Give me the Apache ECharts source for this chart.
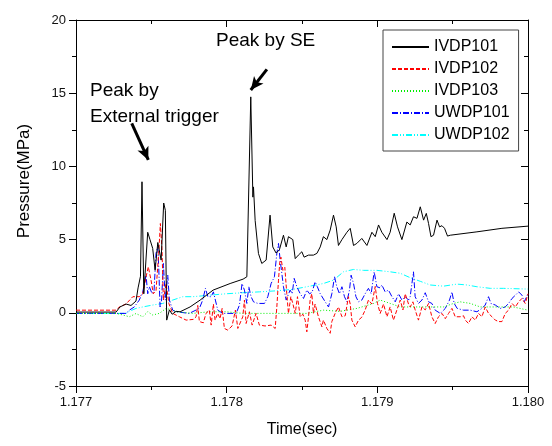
<!DOCTYPE html>
<html>
<head>
<meta charset="utf-8">
<script src="https://cdn.jsdelivr.net/npm/echarts@6/dist/echarts.min.js"></script>
<style>
  html, body { margin: 0; padding: 0; background: #fff; }
  #chart { width: 552px; height: 446px; }
</style>
</head>
<body>
<div id="chart"></div>
<script>
// time (s), pressure (MPa)
const ivdp101 = [
  [1.177, 0.05], [1.177266, 0.05], [1.177292, 0.4], [1.177332, 0.6], [1.177365, 0.5], [1.177398, 0.8],
  [1.177412, 1.7], [1.177428, 2.5], [1.177438, 8.95], [1.17745, 1.3], [1.177476, 5.5], [1.177491, 5.0],
  [1.177509, 4.4], [1.177525, 2.9], [1.177543, 4.8], [1.177565, 3.6], [1.177582, 7.5], [1.177593, 7.0],
  [1.177602, -0.5], [1.17762, 0.2], [1.177638, -0.1], [1.177664, 0.1], [1.177691, 0.07], [1.177757, 0.4],
  [1.177824, 0.87], [1.17791, 1.55], [1.178023, 2.0], [1.178109, 2.3], [1.178134, 2.46], [1.17816, 14.75],
  [1.178174, 7.9], [1.178178, 8.6], [1.178189, 6.3], [1.178211, 4.05], [1.178233, 3.37], [1.178262, 3.6],
  [1.178288, 6.67], [1.178306, 4.5], [1.178328, 4.08], [1.17835, 4.3], [1.178377, 5.3], [1.178395, 4.5],
  [1.17841, 5.2], [1.178421, 5.2], [1.178439, 5.0], [1.178455, 3.7], [1.178476, 3.94], [1.178499, 4.17],
  [1.178514, 3.8], [1.178543, 3.94], [1.178576, 3.94], [1.178599, 4.06], [1.178621, 4.5], [1.178642, 5.2],
  [1.178665, 5.0], [1.178687, 5.65], [1.178709, 6.67], [1.178727, 5.87], [1.178742, 4.6], [1.178765, 5.0],
  [1.178798, 5.5], [1.17882, 5.77], [1.178842, 4.6], [1.178864, 4.74], [1.178897, 5.08], [1.178931, 4.6],
  [1.178964, 5.5], [1.178986, 5.2], [1.179008, 6.0], [1.17903, 5.5], [1.179064, 5.0], [1.179085, 5.5],
  [1.179112, 6.8], [1.179134, 5.87], [1.179163, 5.0], [1.179196, 6.2], [1.179218, 6.0], [1.17924, 6.56],
  [1.179263, 6.45], [1.179285, 7.24], [1.179307, 6.33], [1.179325, 6.79], [1.17934, 6.1], [1.179356, 5.2],
  [1.179373, 5.3], [1.179396, 6.33], [1.179413, 5.87], [1.179429, 5.95], [1.179446, 5.77], [1.179466, 5.24],
  [1.179484, 5.3], [1.179661, 5.53], [1.179827, 5.77], [1.18, 5.92]
];

const ivdp102 = [
  [1.177, 0.18], [1.177266, 0.18], [1.177288, 0.4], [1.177332, 0.6], [1.177377, 1.1], [1.17742, 1.1],
  [1.177443, 1.3], [1.177465, 2.46], [1.17748, 3.14], [1.177498, 2.23], [1.177513, 1.3], [1.177531, 1.5],
  [1.177549, 4.06], [1.17756, 6.1], [1.177571, 4.3], [1.17758, 0.87], [1.177598, 2.0], [1.177616, 0.64],
  [1.177642, -0.04], [1.177686, -0.27], [1.177731, -0.5], [1.177779, -0.45], [1.177797, -0.27], [1.177808, 0.5],
  [1.177819, -0.6], [1.177845, -0.68], [1.177863, -0.04], [1.177885, 0.18], [1.177897, -0.84], [1.177912, 0.6],
  [1.177923, -0.5], [1.177941, -0.04], [1.177956, -0.4], [1.17797, 0.3], [1.177985, -1.07], [1.178007, -1.18],
  [1.178036, -0.9], [1.178058, 0.18], [1.178074, -1.07], [1.178107, -0.27], [1.178118, 0.87], [1.178129, -0.73],
  [1.178151, 0.07], [1.178169, -0.84], [1.178195, -0.04], [1.178217, -0.84], [1.178255, -0.9], [1.178295, -0.84],
  [1.178322, -1.07], [1.178333, 0.4], [1.178344, 2.23], [1.178352, 3.4], [1.17836, 3.8], [1.178373, 2.9],
  [1.178386, 3.1], [1.178399, 1.3], [1.17841, -0.04], [1.178426, 1.1], [1.178439, 0.64], [1.178455, -0.04],
  [1.17847, 1.1], [1.178488, -0.27], [1.178506, -0.1], [1.178521, -0.5], [1.178532, -1.3], [1.178543, -0.3],
  [1.178554, 0.87], [1.178565, 1.3], [1.178576, -0.04], [1.178587, 0.6], [1.178609, -0.27], [1.178632, -0.96],
  [1.178642, -0.5], [1.178665, -1.07], [1.178687, -1.4], [1.178698, -0.6], [1.17872, -0.04], [1.178742, 0.4],
  [1.178765, -0.27], [1.178787, -0.2], [1.178808, 1.1], [1.17882, 0.6], [1.178831, -0.5], [1.178853, -0.96],
  [1.178875, -0.5], [1.178897, -0.3], [1.178919, 0.18], [1.178941, 0.87], [1.178964, 0.6], [1.178986, 1.8],
  [1.179001, 0.64], [1.179019, -0.04], [1.179041, 0.6], [1.179064, -0.27], [1.179085, 0.4], [1.179107, -0.5],
  [1.17913, 0.2], [1.179152, 0.87], [1.17917, 0.2], [1.179185, 1.3], [1.179207, 0.6], [1.179218, 0.4],
  [1.179236, 0.75], [1.179251, 0.2], [1.179273, -0.5], [1.179296, 0.4], [1.179318, 0.2], [1.17934, 0.64],
  [1.179362, -0.27], [1.179384, -0.73], [1.179406, -0.27], [1.179429, -0.04], [1.179451, -0.4], [1.179473, -0.04],
  [1.179495, 0.3], [1.179517, -0.27], [1.17955, -0.27], [1.179572, -0.2], [1.179584, -0.5], [1.179605, -0.73],
  [1.179628, -0.27], [1.17965, -0.5], [1.179672, -0.04], [1.179694, -0.27], [1.179716, 0.4], [1.179738, -0.04],
  [1.179761, -0.27], [1.179783, -0.5], [1.179805, -0.6], [1.179827, -0.6], [1.179849, -0.04], [1.179871, 0.18],
  [1.179894, 0.64], [1.179916, 0.4], [1.179938, 0.75], [1.17996, 0.98], [1.179982, 0.64], [1.18, 1.3]
];

const ivdp103 = [
  [1.177, -0.04], [1.177266, -0.04], [1.177292, -0.1], [1.177354, -0.27], [1.177398, -0.05], [1.177443, -0.27],
  [1.177476, 0.07], [1.177509, -0.15], [1.177553, -0.04], [1.177598, 0.3], [1.177642, 0.18], [1.177664, 0.07],
  [1.177775, -0.04], [1.177885, 0.07], [1.177996, 0.07], [1.178107, -0.04], [1.178217, -0.04], [1.178328, -0.04],
  [1.178439, -0.04], [1.178532, -0.04], [1.178642, 0.18], [1.178753, 0.1], [1.178864, 0.3], [1.178975, 0.64],
  [1.179019, 0.87], [1.179085, 0.64], [1.179152, 0.4], [1.179218, 0.4], [1.179439, 0.4], [1.179506, 0.64],
  [1.17955, 0.75], [1.179617, 0.64], [1.179683, 0.4], [1.179816, 0.4], [1.179902, 0.4], [1.18, 0.18]
];

const uwdp101 = [
  [1.177, -0.04], [1.177332, -0.04], [1.177354, 0.18], [1.177387, 0.4], [1.17742, 0.87], [1.177443, 1.43],
  [1.177454, 2.0], [1.177465, 2.57], [1.177476, 1.3], [1.177487, 1.78], [1.177505, 1.3], [1.177518, 1.5],
  [1.177531, 4.06], [1.177543, 4.5], [1.177549, 3.14], [1.177558, 0.4], [1.177568, 0.87], [1.17758, 3.37],
  [1.177593, 0.87], [1.177609, 2.57], [1.17762, 0.87], [1.177642, 0.18], [1.177664, 0.07], [1.177752, -0.04],
  [1.177819, 0.3], [1.177841, 0.87], [1.177859, 1.67], [1.177875, 1.1], [1.177897, 1.1], [1.177912, 1.43],
  [1.177925, 0.87], [1.177941, 0.18], [1.177974, -0.04], [1.178063, -0.04], [1.178085, 0.53], [1.178102, 2.0],
  [1.178118, 1.55], [1.178134, 0.64], [1.178147, 1.78], [1.178162, 1.1], [1.178178, 0.75], [1.178207, 0.64],
  [1.178251, 0.64], [1.178273, 1.1], [1.178295, 2.0], [1.178317, 2.46], [1.178333, 4.06], [1.178344, 4.74],
  [1.178355, 3.6], [1.178366, 2.7], [1.178377, 1.78], [1.178395, 0.87], [1.178421, 1.55], [1.178435, 1.3],
  [1.178448, 2.35], [1.178466, 1.78], [1.178488, 1.3], [1.17851, 0.98], [1.178532, 1.55], [1.17855, 1.3],
  [1.178567, 1.4], [1.178587, 2.12], [1.178601, 1.8], [1.178621, 1.3], [1.178654, 0.75], [1.178676, 0.4],
  [1.178698, 1.3], [1.178716, 2.46], [1.178731, 1.78], [1.178749, 1.3], [1.178765, 1.78], [1.178782, 1.1],
  [1.178798, 0.75], [1.178815, 1.55], [1.178826, 2.57], [1.178842, 2.0], [1.178858, 1.1], [1.178875, 0.75],
  [1.178897, 0.87], [1.178919, 1.3], [1.178941, 1.67], [1.178959, 1.3], [1.178979, 2.8], [1.178997, 1.78],
  [1.179008, 1.9], [1.179019, 1.7], [1.17903, 1.9], [1.179052, 1.43], [1.179074, 1.55], [1.179097, 1.1],
  [1.179119, 0.75], [1.179141, 1.3], [1.179163, 0.87], [1.179185, 1.1], [1.179207, 0.87], [1.179218, 1.1],
  [1.17924, 2.8], [1.179251, 1.1], [1.179273, 0.64], [1.179296, 0.87], [1.179318, 1.37], [1.17934, 0.75],
  [1.179362, 0.64], [1.179384, 0.18], [1.179418, -0.04], [1.179451, 0.3], [1.179479, 0.87], [1.179495, 1.43],
  [1.17951, 0.64], [1.17953, 0.3], [1.179572, 0.18], [1.179617, 0.18], [1.179661, 0.07], [1.179694, 0.3],
  [1.179716, 0.53], [1.179738, 1.1], [1.179754, 0.64], [1.179783, 0.53], [1.179816, 0.3], [1.179849, 0.4],
  [1.179871, 0.64], [1.179894, 0.98], [1.179916, 1.2], [1.179938, 1.43], [1.17996, 1.2], [1.179975, 0.75],
  [1.18, 1.3]
];

const uwdp102 = [
  [1.177, -0.04], [1.177332, -0.04], [1.177354, 0.1], [1.177398, 0.3], [1.177443, 0.4], [1.177509, 0.53],
  [1.177576, 0.64], [1.177642, 0.87], [1.177709, 1.1], [1.177775, 1.1], [1.177885, 1.2], [1.177996, 1.3],
  [1.178107, 1.37], [1.178217, 1.43], [1.178328, 1.5], [1.178439, 1.6], [1.178532, 1.78], [1.178642, 2.0],
  [1.178709, 2.23], [1.178775, 2.8], [1.178842, 2.96], [1.178908, 2.9], [1.178997, 2.9], [1.179085, 2.8],
  [1.179152, 2.7], [1.179218, 2.4], [1.179285, 2.15], [1.179351, 1.9], [1.179439, 1.82], [1.179528, 1.96],
  [1.179595, 1.9], [1.179661, 1.78], [1.17975, 1.67], [1.179838, 1.67], [1.18, 1.62]
];

const seriesNames = ['IVDP101', 'IVDP102', 'IVDP103', 'UWDP101', 'UWDP102'];
const seriesData = [ivdp101, ivdp102, ivdp103, uwdp101, uwdp102];
const seriesColors = ['#000000', '#ff0000', '#00ee00', '#0000ff', '#00ffff'];
const seriesDash = ['solid', [4, 2], [1, 2], [6, 2, 1, 2], [6, 2, 1, 2, 1, 2]];

// annotation arrows: [start, tip] in data coordinates
const arrowExternal = [[1.17737, 12.94], [1.17748, 10.44]];
const arrowSE = [[1.178267, 16.63], [1.17816, 15.22]];

const xTicks = { min: 1.177, max: 1.18, interval: 0.001 };
const yTicks = { min: -5, max: 20, interval: 5 };

const FONT = '"Liberation Sans", Arial, sans-serif';

const chart = echarts.init(document.getElementById('chart'), null, { renderer: 'canvas' });

const series = seriesNames.map((name, i) => ({
  name: name,
  type: 'line',
  data: seriesData[i],
  symbol: 'none',
  smooth: false,
  z: 10 - i,
  lineStyle: { color: seriesColors[i], width: 1, type: seriesDash[i] },
  itemStyle: { color: seriesColors[i] }
}));

series[0].markLine = {
  silent: true,
  symbol: ['none', 'arrow'],
  symbolSize: [9, 13],
  label: { show: false },
  lineStyle: { color: '#000', width: 3, type: 'solid' },
  data: [
    [{ coord: arrowExternal[0] }, { coord: arrowExternal[1] }],
    [{ coord: arrowSE[0] }, { coord: arrowSE[1] }]
  ]
};

const axisLine = { show: true, onZero: false, lineStyle: { color: '#000', width: 1 } };

const option = {
  animation: false,
  backgroundColor: '#fff',
  grid: { left: 76, right: 24, top: 20, bottom: 60 },
  legend: {
    orient: 'vertical',
    left: 383,
    top: 30,
    data: seriesNames,
    itemWidth: 37,
    itemHeight: 14,
    itemGap: 6,
    itemTextGap: 5,
    padding: [9, 9, 8, 8],
    borderColor: '#444',
    borderWidth: 1,
    // hide the circle the line icon draws in its middle
    itemStyle: { color: 'transparent', borderColor: 'transparent', borderWidth: 0 },
    textStyle: { fontFamily: FONT, fontSize: 16, color: '#000' }
  },
  xAxis: [
    {
      type: 'value',
      position: 'bottom',
      min: xTicks.min, max: xTicks.max, interval: xTicks.interval,
      axisLine: axisLine,
      axisTick: { show: true, inside: false, length: 7, lineStyle: { color: '#000' } },
      minorTick: { show: true, splitNumber: 2, length: 4, lineStyle: { color: '#000' } },
      splitLine: { show: false },
      axisLabel: {
        margin: 10, color: '#111', fontFamily: FONT, fontSize: 13,
        formatter: v => v.toFixed(3)
      },
      name: 'Time(sec)',
      nameLocation: 'middle',
      nameGap: 36,
      nameTextStyle: { fontFamily: FONT, fontSize: 16, color: '#000' }
    },
    {
      type: 'value',
      position: 'top',
      min: xTicks.min, max: xTicks.max, interval: xTicks.interval,
      axisLine: axisLine,
      axisTick: { show: true, inside: true, length: 7, lineStyle: { color: '#000' } },
      minorTick: { show: true, splitNumber: 2, length: 4, lineStyle: { color: '#000' } },
      splitLine: { show: false },
      axisLabel: { show: false }
    }
  ],
  yAxis: [
    {
      type: 'value',
      position: 'left',
      min: yTicks.min, max: yTicks.max, interval: yTicks.interval,
      axisLine: axisLine,
      axisTick: { show: true, inside: false, length: 7, lineStyle: { color: '#000' } },
      minorTick: { show: true, splitNumber: 2, length: 4, lineStyle: { color: '#000' } },
      splitLine: { show: false },
      axisLabel: { margin: 10, color: '#111', fontFamily: FONT, fontSize: 13 }
    },
    {
      type: 'value',
      position: 'right',
      min: yTicks.min, max: yTicks.max, interval: yTicks.interval,
      axisLine: axisLine,
      axisTick: { show: true, inside: true, length: 7, lineStyle: { color: '#000' } },
      minorTick: { show: true, splitNumber: 2, length: 4, lineStyle: { color: '#000' } },
      splitLine: { show: false },
      axisLabel: { show: false }
    }
  ],
  graphic: [
    {
      type: 'text', x: 24, y: 181, rotation: Math.PI / 2,
      style: { text: 'Pressure(MPa)', font: '17px ' + FONT, fill: '#000', align: 'center', verticalAlign: 'middle' }
    },
    {
      type: 'text', x: 90, y: 78,
      style: { text: 'Peak by\nExternal trigger', font: '19px ' + FONT, lineHeight: 26, fill: '#000', align: 'left', verticalAlign: 'top' }
    },
    {
      type: 'text', x: 216, y: 31,
      style: { text: 'Peak by SE', font: '19px ' + FONT, fill: '#000', align: 'left', verticalAlign: 'top' }
    }
  ],
  series: series
};

chart.setOption(option);
</script>
</body>
</html>
